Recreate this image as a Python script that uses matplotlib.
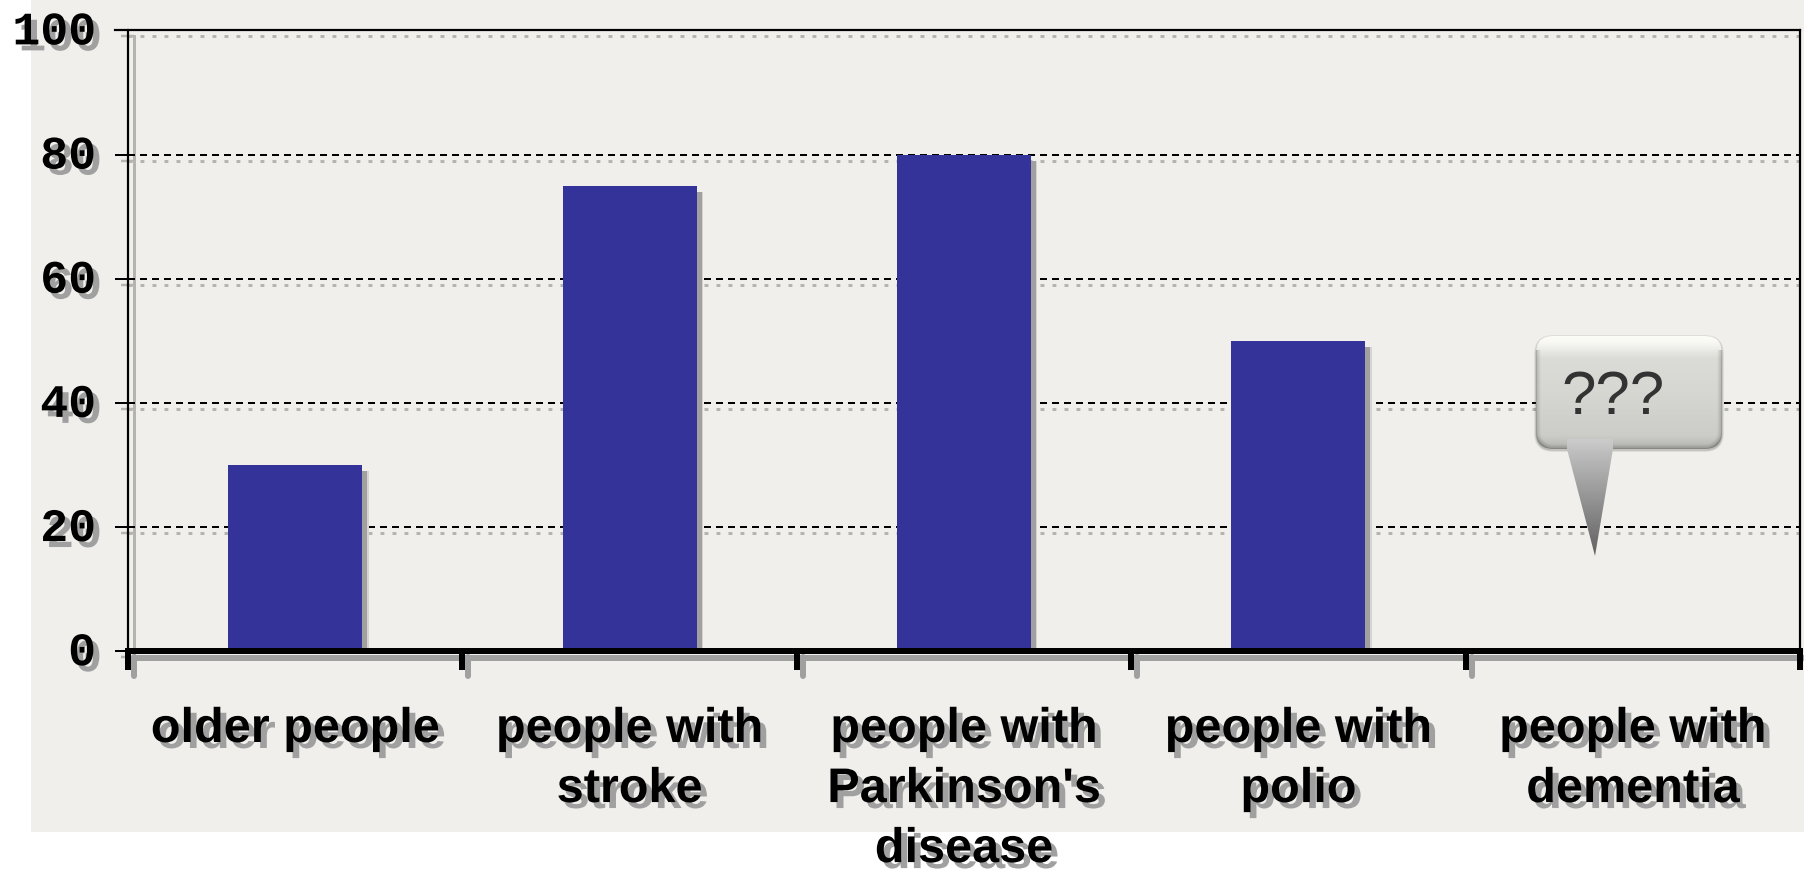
import numpy as np
import matplotlib
matplotlib.use("Agg")
import matplotlib.pyplot as plt
import matplotlib.patheffects as pe
import matplotlib.transforms as mtrans
from matplotlib.patches import FancyBboxPatch, Polygon

categories = ["older people", "people with\nstroke", "people with\nParkinson's\ndisease",
              "people with\npolio", "people with\ndementia"]
values = [30, 75, 80, 50]
y_ticks = [0, 20, 40, 60, 80, 100]
callout_text = "???"

W, H, DPI = 1804, 870, 100
BG = "#f0efeb"
BAR = "#333399"
SHADOW = "#a0a0a0"
GRID_SHADOW = "#b4b4b0"
PX = 72 / DPI  # one pixel, in points

fig = plt.figure(figsize=(W / DPI, H / DPI), dpi=DPI, facecolor="white")

# Pale panel behind everything, leaving a white strip on the left and below
panel = fig.add_axes([31 / W, (H - 833) / H, (W - 31) / W, 833 / H], zorder=0)
panel.set_facecolor(BG)
panel.set_xticks([])
panel.set_yticks([])
for s in panel.spines.values():
    s.set_visible(False)

L, R, T, B = 128, 1800, 31.4, 652.2
ax = fig.add_axes([L / W, (H - B) / H, (R - L) / W, (B - T) / H], zorder=1)
ax.patch.set_alpha(0)
ax.set_xlim(0, 5)
ax.set_ylim(0, 100)
UX = (R - L) / 5       # pixels per category
UY = (B - T) / 100     # pixels per percent


def to_data(px, py):
    return (px - L) / UX, (B - py) / UY


def shifted(dx, dy):
    return ax.transData + mtrans.ScaledTranslation(dx / DPI, -dy / DPI, fig.dpi_scale_trans)


# Every line gets a hand-built drop shadow: a grey copy offset down and to the right
xend = (W - L) / UX
stub = 13 / UX
for v in y_ticks:
    ax.plot([0, xend], [v, v], color=GRID_SHADOW, lw=3 * PX, dashes=(1.3, 2.7), clip_on=False, zorder=1,
            transform=shifted(0, 6))
    ax.plot([-stub, 0], [v, v], color=GRID_SHADOW, lw=2.5 * PX, clip_on=False, zorder=1,
            solid_capstyle="butt", transform=shifted(6, 6))
    ax.plot([0, 5], [v, v], color="black", lw=2 * PX, dashes=(3.5, 2.5), clip_on=False, zorder=2)

# Bars with their shadows; the paler copy gives the shadow a soft rim
xs = np.arange(len(values)) + 0.5
ax.bar(xs + 5.5 / UX, values, width=0.4 + 2 / UX, color="#d4d4d0", zorder=2.5, bottom=-6 / UY)
ax.bar(xs + 5 / UX, values, width=0.401, color=SHADOW, zorder=3, bottom=-6 / UY)
ax.bar(xs, values, width=0.401, color=BAR, zorder=4)

# Axis frame
ax.plot([0, 0], [0, 100], color=GRID_SHADOW, lw=3 * PX, zorder=1, clip_on=False, transform=shifted(5.5, 6))
ax.plot([0, xend], [0, 0], color=SHADOW, lw=6 * PX, zorder=3.5, clip_on=False, solid_capstyle="butt",
        transform=shifted(6, 6.5))
ax.plot([0, 5], [0, 0], color="black", lw=6 * PX, zorder=6, clip_on=False, solid_capstyle="butt")
for name in ("left", "top", "right"):
    ax.spines[name].set_linewidth(2.2 * PX)
    ax.spines[name].set_zorder(6)
ax.spines["top"].set_bounds(-stub, 5)
ax.spines["bottom"].set_visible(False)

# x tick marks at the category boundaries
tick_len = 19 / UY
for i in range(6):
    ax.plot([i, i], [0, -tick_len], color=SHADOW, lw=6 * PX, clip_on=False, zorder=3.5,
            solid_capstyle="round", transform=shifted(6, 6))
    ax.plot([i, i], [0.5, -tick_len], color="black", lw=6 * PX, clip_on=False, zorder=6,
            solid_capstyle="butt")


def shadow_fx(dx, dy):
    return [pe.SimplePatchShadow(offset=(dx * PX, -dy * PX), shadow_rgbFace=SHADOW, alpha=1.0), pe.Normal()]


ax.set_xticks([])
ax.set_yticks(y_ticks)
ax.tick_params(axis="y", length=13 * PX, width=2 * PX, pad=19 * PX, direction="out")
raise_labels = mtrans.ScaledTranslation(0, 3 / DPI, fig.dpi_scale_trans)
for lab in ax.get_yticklabels():
    lab.set_family("Liberation Mono")
    lab.set_fontweight("bold")
    lab.set_fontsize(33.5)
    lab.set_color("black")
    lab.set_path_effects(shadow_fx(6, 6))
    lab.set_transform(lab.get_transform() + raise_labels)

# Category labels
label_y = -(708 - B) / (B - T)
for x, name in zip(np.arange(5) + 0.5, categories):
    ax.text(x, label_y, name, transform=ax.get_xaxis_transform(), ha="center", va="top",
            family="Liberation Sans", fontweight="bold", fontsize=35, linespacing=1.43,
            clip_on=False, zorder=7, path_effects=shadow_fx(6, 6))

# Speech bubble over the last category; its rounded box and tail are clipped gradients
BX0, BX1, BY0, BY1 = 1536, 1722, 337, 450
TIP = (1595, 557)
RADIUS = 17
outline = FancyBboxPatch((BX0, H - BY1), BX1 - BX0, BY1 - BY0, boxstyle=f"round,pad=0,rounding_size={RADIUS}",
                         transform=mtrans.IdentityTransform(), facecolor="none", edgecolor="none", zorder=8)
ax.add_patch(outline)

# soft halo under the bubble
for grow, alpha in ((4, 0.08), (2.5, 0.12), (1, 0.18)):
    ax.add_patch(FancyBboxPatch((BX0, H - BY1 - 1), BX1 - BX0, BY1 - BY0,
                                boxstyle=f"round,pad=0,rounding_size={RADIUS}",
                                transform=mtrans.IdentityTransform(), facecolor="none",
                                edgecolor=(0.3, 0.3, 0.3, alpha), lw=grow * PX, zorder=8))

# shade: vertical ramp, darkened near the box edge using the distance to the rounded outline
nx, ny = BX1 - BX0, BY1 - BY0
gx, gy = np.meshgrid(np.arange(nx) + 0.5, np.arange(ny) + 0.5)
qx = np.abs(gx - nx / 2) - (nx / 2 - RADIUS)
qy = np.abs(gy - ny / 2) - (ny / 2 - RADIUS)
edge = RADIUS - (np.hypot(np.maximum(qx, 0), np.maximum(qy, 0)) + np.minimum(np.maximum(qx, qy), 0))
ramp = np.interp(gy / ny, [0, 0.05, 0.2, 0.5, 0.88, 1], [0.99, 0.98, 0.86, 0.84, 0.80, 0.70])
side = np.interp(edge, [0, 1.5, 5], [0.70, 0.86, 1.0])
side = np.where(gy / ny < 0.12, 1.0, side)
shade = (ramp * side)[:, :, None] * np.array([1.0, 1.0, 0.98])
x0, y1 = to_data(BX0, BY0)
x1, y0 = to_data(BX1, BY1)
im = ax.imshow(shade, aspect="auto", extent=(x0, x1, y0, y1), zorder=9)
im.set_clip_path(outline)

tail = Polygon([(1567, H - 440), (1567, H - 450), (TIP[0], H - TIP[1]), (1613, H - 450), (1613, H - 440)],
               closed=True, transform=mtrans.IdentityTransform(), facecolor="none", edgecolor="none", zorder=8)
ax.add_patch(tail)
ramp_tail = np.interp(np.linspace(0, 1, 128), [0, 0.12, 1], [0.80, 0.74, 0.38])[:, None]
tx0, ty1 = to_data(1567, 440)
tx1, ty0 = to_data(1613, TIP[1])
im2 = ax.imshow(ramp_tail, cmap="gray", vmin=0, vmax=1, aspect="auto", extent=(tx0, tx1, ty0, ty1), zorder=9.5)
im2.set_clip_path(tail)
ax.set_xlim(0, 5)
ax.set_ylim(0, 100)

tx, ty = to_data(1613, 414)
ax.text(tx, ty, callout_text, family="Liberation Sans", fontsize=44.5, color="#333333", ha="center",
        va="baseline", zorder=10)

fig.savefig("out.png", dpi=DPI, facecolor="white")
